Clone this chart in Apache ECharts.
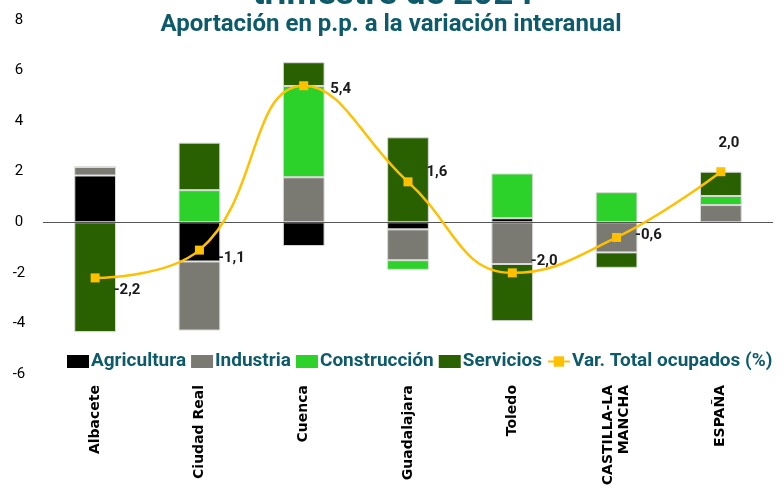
<!DOCTYPE html>
<html>
<head>
<meta charset="utf-8">
<script src="https://cdn.jsdelivr.net/npm/echarts@6/dist/echarts.min.js"></script>
<style>
  html, body { margin: 0; padding: 0; background: #fff; }
  #chart { width: 784px; height: 490px; }
</style>
</head>
<body>
<div id="chart"></div>
<script>
// datos (p.p.)
var provincias = ['Albacete', 'Ciudad Real', 'Cuenca', 'Guadalajara', 'Toledo', 'CASTILLA-LA\nMANCHA', 'ESPAÑA']
var agricultura = [1.85, -1.55, -0.94, -0.28, 0.16, 0.0, 0.0]
var industria = [0.34, -2.73, 1.78, -1.22, -1.65, -1.19, 0.68]
var construccion = [0.0, 1.27, 3.61, -0.38, 1.77, 1.19, 0.36]
var servicios = [-4.34, 1.88, 0.94, 3.36, -2.26, -0.61, 0.96]
var totalOcupados = [-2.2, -1.1, 5.4, 1.6, -2.0, -0.6, 2.0]

// desplazamiento de las etiquetas del total (solo estilo)
var etiquetaOffset = [[0, 12], [0, 8], [8, 4], [0, -10], [0, -12], [0, -2], [8, -2]]

var teal = '#0d5a6a'
var chart = echarts.init(document.getElementById('chart'))

function barra(nombre, datos, color) {
  return {
    name: nombre,
    type: 'bar',
    stack: 'total',
    barWidth: '40%',
    data: datos,
    itemStyle: { color: color, borderColor: '#d9d9d9', borderWidth: 1 }
  }
}

var serieTotal = {
  name: 'Var. Total ocupados (%)',
  type: 'line',
  smooth: 0.45,
  data: totalOcupados.map(function (v, i) {
    var d = { value: v, label: { offset: etiquetaOffset[i] } }
    if (i === totalOcupados.length - 1) d.label.position = 'top'
    return d
  }),
  symbol: 'rect',
  symbolSize: 9,
  z: 5,
  lineStyle: { color: '#ffc000', width: 2.5 },
  itemStyle: { color: '#ffc000' },
  label: {
    show: true,
    position: 'right',
    distance: 14,
    color: '#1a1a1a',
    fontWeight: 'bold',
    fontSize: 15,
    fontFamily: 'Roboto',
    formatter: function (p) { return p.value.toFixed(1).replace('.', ',') }
  }
}

var zeroLine = {
  silent: true,
  symbol: 'none',
  label: { show: false },
  lineStyle: { color: '#555', width: 1, type: 'solid' },
  data: [{ yAxis: 0 }]
}

var series = [
  barra('Agricultura', agricultura, '#000000'),
  barra('Industria', industria, '#7a7a72'),
  barra('Construcción', construccion, '#2cd12a'),
  barra('Servicios', servicios, '#2a6100'),
  serieTotal
]
series[0].markLine = zeroLine

chart.setOption({
  animation: false,
  title: [
    {
      text: 'trimestre de 2024',
      left: 388, textAlign: 'center',
      top: -27,
      textStyle: { color: teal, fontSize: 35, fontWeight: 'bold', fontFamily: 'Roboto' }
    },
    {
      text: 'Aportación en p.p. a la variación interanual',
      left: 386, textAlign: 'center',
      top: 8,
      textStyle: { color: teal, fontSize: 24, fontWeight: 'bold', fontFamily: 'Roboto' }
    }
  ],
  legend: {
    left: 62,
    top: 347,
    itemWidth: 22,
    itemHeight: 13,
    itemGap: 5,
    itemStyle: { borderWidth: 0 },
    textStyle: { color: teal, fontSize: 19, fontWeight: 'bold', fontFamily: 'Roboto', padding: [0, 0, 0, -3] },
    data: [
      { name: 'Agricultura', icon: 'rect' },
      { name: 'Industria', icon: 'rect' },
      { name: 'Construcción', icon: 'rect' },
      { name: 'Servicios', icon: 'rect' },
      'Var. Total ocupados (%)'
    ]
  },
  grid: { left: 43, right: 11, top: 20, bottom: 116 },
  xAxis: {
    type: 'category',
    data: provincias,
    axisLine: { show: false, onZero: false },
    axisTick: { show: false },
    axisLabel: {
      rotate: 90,
      margin: 11,
      interval: 0,
      color: '#000',
      fontWeight: 'bold',
      fontSize: 14,
      fontFamily: 'DejaVu Sans',
      lineHeight: 16
    }
  },
  yAxis: {
    type: 'value',
    min: -6,
    max: 8,
    interval: 2,
    axisLine: { show: false },
    axisTick: { show: false },
    splitLine: { show: false },
    axisLabel: { color: '#000', fontSize: 15, fontFamily: 'Roboto', margin: 24, align: 'center' }
  },
  series: series
})
</script>
</body>
</html>
